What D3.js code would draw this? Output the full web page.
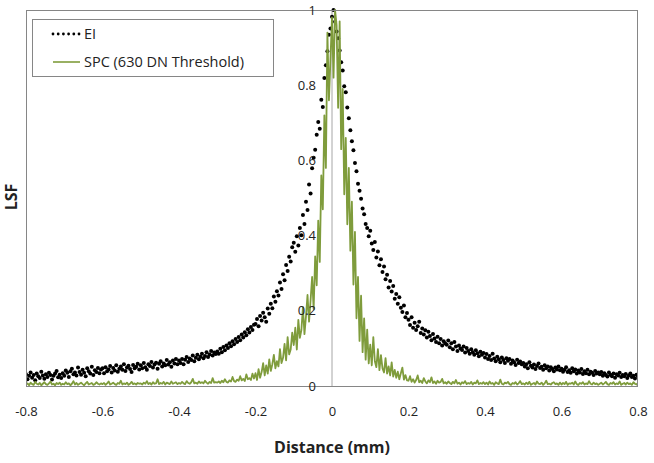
<!DOCTYPE html>
<html><head><meta charset="utf-8">
<script src="https://cdn.jsdelivr.net/npm/d3@7"></script>
<style>body{margin:0;background:#fff}svg{display:block}text{font-family:"Open Sans","Noto Sans",sans-serif}</style>
</head><body><svg id="c" width="654" height="463"></svg>
<script>
// Sampling grid (mm)
const xStart = -0.8, xStep = 0.004;
const xTicks = [-0.8,-0.6,-0.4,-0.2,0,0.2,0.4,0.6,0.8];
const yTicks = [0,0.2,0.4,0.6,0.8,1];
const seriesNames = ["EI","SPC (630 DN Threshold)"];
// EI LSF values
const ei = [
.031,.018,.027,.036,.022,.029,.015,.033,.026,.021,.038,.028,.019,.031,.024,.035,.029,.017,.027,.033,.04,.023,.03,.021,.034,
.027,.041,.035,.024,.039,.046,.031,.036,.028,.049,.037,.03,.043,.035,.026,.047,.039,.033,.051,.029,.042,.037,.048,.034,.044,
.047,.034,.05,.039,.044,.053,.036,.048,.041,.055,.038,.046,.052,.043,.058,.04,.049,.054,.045,.037,.056,.047,.051,.059,.044,
.055,.047,.061,.05,.043,.058,.053,.064,.049,.057,.062,.046,.059,.066,.052,.06,.055,.069,.057,.063,.051,.068,.06,.072,.058,
.068,.061,.072,.058,.07,.077,.064,.073,.069,.081,.066,.075,.083,.071,.078,.086,.074,.08,.09,.077,.084,.093,.081,.089,.085,
.092,.086,.099,.09,.104,.095,.108,.101,.114,.106,.119,.111,.125,.117,.13,.122,.137,.129,.143,.135,.151,.142,.157,.149,.163,
.165,.178,.159,.186,.174,.195,.183,.171,.206,.192,.219,.207,.238,.224,.252,.241,.275,.258,.297,.281,.322,.306,.344,.331,.369,
.381,.357,.398,.374,.42,.401,.455,.431,.49,.468,.536,.512,.579,.607,.628,.668,.702,.684,.761,.742,.819,.853,.89,.934,.951,
.982,1.0,.969,.943,.925,.892,.861,.839,.797,.781,.741,.712,.68,.651,.627,.593,.571,.538,.519,.498,.472,.457,.431,.42,.398,
.413,.379,.362,.383,.342,.358,.321,.337,.303,.318,.284,.296,.262,.279,.251,.266,.232,.245,.219,.236,.208,.197,.214,.183,.194,
.176,.162,.183,.155,.168,.149,.159,.171,.141,.153,.137,.148,.129,.144,.133,.122,.138,.126,.117,.131,.114,.125,.108,.119,.113,
.11,.121,.103,.114,.098,.117,.105,.093,.108,.1,.096,.105,.089,.101,.093,.086,.098,.09,.083,.095,.087,.079,.091,.083,.088,
.076,.085,.072,.08,.069,.086,.073,.066,.078,.071,.063,.076,.069,.061,.074,.067,.072,.059,.068,.063,.056,.07,.061,.065,.058,
.061,.052,.058,.047,.063,.054,.049,.057,.045,.053,.06,.048,.051,.043,.055,.047,.052,.041,.05,.045,.039,.049,.044,.052,.042,
.046,.038,.043,.05,.037,.042,.035,.047,.039,.044,.033,.041,.036,.045,.032,.039,.034,.043,.031,.038,.035,.029,.04,.033,.036,
.031,.037,.027,.034,.029,.025,.036,.03,.026,.033,.022,.031,.028,.035,.024,.029,.026,.032,.021,.028,.033,.024,.027,.02,.03,.025
];
// SPC LSF values
const spc = [
.004,.007,.002,.009,.005,.003,.011,.006,.004,.008,.002,.006,.01,.005,.003,.007,.012,.004,.006,.002,.008,.005,.009,.003,.006,
.004,.01,.005,.007,.002,.006,.013,.004,.008,.003,.006,.009,.005,.002,.007,.011,.004,.006,.008,.003,.005,.01,.006,.004,.007,
.005,.008,.003,.007,.012,.004,.006,.009,.005,.003,.008,.006,.014,.004,.007,.005,.009,.003,.006,.011,.005,.007,.004,.008,.006,
.007,.004,.009,.006,.013,.005,.008,.004,.01,.006,.007,.018,.005,.008,.006,.011,.004,.009,.007,.005,.012,.006,.008,.01,.005,
.008,.006,.011,.007,.005,.013,.008,.006,.01,.019,.007,.009,.006,.012,.008,.01,.007,.014,.009,.006,.011,.008,.021,.009,.01,
.009,.012,.008,.014,.01,.018,.011,.009,.015,.012,.024,.013,.011,.017,.014,.026,.015,.019,.013,.031,.018,.021,.016,.033,.02,
.034,.016,.045,.022,.037,.061,.028,.055,.033,.071,.04,.058,.083,.047,.066,.052,.098,.061,.075,.112,.068,.13,.084,.097,.142,
.109,.155,.097,.176,.128,.149,.21,.138,.186,.242,.171,.228,.29,.205,.345,.268,.44,.33,.56,.47,.72,.58,.94,.76,.87,
.98,.82,1.0,.96,.74,.97,.63,.79,.51,.66,.43,.58,.36,.49,.27,.41,.18,.29,.12,.24,.09,.18,.07,.15,.06,
.11,.055,.13,.066,.05,.098,.042,.082,.047,.036,.074,.033,.052,.028,.063,.025,.043,.022,.038,.018,.034,.049,.017,.029,.015,
.014,.026,.011,.018,.009,.016,.028,.01,.014,.008,.021,.012,.007,.015,.01,.023,.008,.012,.006,.014,.009,.011,.019,.007,.01,
.006,.012,.008,.005,.011,.007,.016,.006,.009,.004,.01,.007,.013,.005,.008,.006,.011,.004,.009,.007,.015,.005,.008,.006,.01,
.005,.009,.004,.012,.006,.008,.003,.01,.007,.005,.017,.006,.004,.009,.007,.011,.005,.003,.008,.006,.01,.004,.007,.013,.005,
.007,.004,.009,.005,.011,.003,.006,.008,.004,.012,.006,.005,.009,.003,.007,.014,.005,.006,.004,.008,.01,.005,.007,.003,.009,
.004,.008,.005,.011,.003,.007,.006,.009,.004,.012,.005,.003,.008,.006,.01,.004,.007,.005,.013,.006,.004,.009,.005,.007,.003,
.006,.009,.004,.007,.011,.005,.003,.008,.006,.01,.004,.007,.005,.012,.003,.006,.008,.004,.009,.005,.007,.003,.01,.006,.004,.008
];

const W=654,H=463, m={l:26,r:16,t:10,b:77};
const svg=d3.select("#c");
const x=d3.scaleLinear().domain([-0.8,0.8]).range([m.l,W-m.r]);
const y=d3.scaleLinear().domain([0,1]).range([H-m.b,m.t]);
const green="#7f9c3c";
const eiPts=ei.map((v,i)=>[xStart+i*xStep,v]);
const spcPts=spc.map((v,i)=>[xStart+i*xStep,v]);

svg.append("clipPath").attr("id","pc").append("rect")
  .attr("x",m.l).attr("y",m.t-2).attr("width",W-m.l-m.r).attr("height",H-m.t-m.b+2);

// vertical axis at x=0
svg.append("line").attr("x1",x(0)).attr("x2",x(0)).attr("y1",y(0)).attr("y2",y(1))
  .attr("stroke","#a6a6a6").attr("stroke-width",1);

const g=svg.append("g").attr("clip-path","url(#pc)");
g.selectAll("circle.ei").data(eiPts).join("circle").attr("class","ei")
  .attr("cx",d=>x(d[0])).attr("cy",d=>y(d[1])).attr("r",2).attr("fill","#000");
g.append("path").datum(spcPts)
  .attr("d",d3.line().x(d=>x(d[0])).y(d=>y(d[1])))
  .attr("fill","none").attr("stroke",green).attr("stroke-width",1.8).attr("stroke-linejoin","round");

// plot border
svg.append("rect").attr("x",m.l+0.5).attr("y",m.t+0.5).attr("width",W-m.l-m.r-1).attr("height",H-m.t-m.b)
  .attr("fill","none").attr("stroke","#868686");

// y tick labels beside the x=0 axis
const fmt=d=>String(d);
const yAx=svg.append("g").attr("transform",`translate(${x(0)},0)`)
  .call(d3.axisLeft(y).tickValues(yTicks).tickSize(0).tickPadding(16).tickFormat(fmt));
yAx.select(".domain").remove();
yAx.selectAll("text").attr("font-size",13).attr("fill","#222");

// x tick labels at bottom
const xAx=svg.append("g").attr("transform",`translate(0,${y(0)})`)
  .call(d3.axisBottom(x).tickValues(xTicks).tickSize(0).tickPadding(21).tickFormat(fmt));
xAx.select(".domain").remove();
xAx.selectAll("text").attr("font-size",13).attr("fill","#222");

// axis titles
svg.append("text").attr("x",x(0)).attr("y",453).attr("text-anchor","middle")
  .attr("font-size",16).attr("font-weight","bold").attr("fill","#222").text("Distance (mm)");
svg.append("text").attr("transform","translate(17,197) rotate(-90)").attr("text-anchor","middle")
  .attr("font-size",16).attr("font-weight","bold").attr("fill","#222").text("LSF");

// legend
const lg=svg.append("g");
lg.append("rect").attr("x",32.5).attr("y",19.5).attr("width",241).attr("height",57)
  .attr("fill","#fff").attr("stroke","#868686");
lg.selectAll("circle").data(d3.range(6)).join("circle")
  .attr("cx",d=>53+d*5.2).attr("cy",34).attr("r",1.4).attr("fill","#000");
lg.append("line").attr("x1",53).attr("x2",80).attr("y1",62).attr("y2",62)
  .attr("stroke",green).attr("stroke-width",1.6);
lg.selectAll("text").data(seriesNames).join("text")
  .attr("x",84).attr("y",(d,i)=>34+i*28).attr("dy","0.35em")
  .attr("font-size",14.5).attr("fill","#222").text(d=>d);
</script></body></html>
